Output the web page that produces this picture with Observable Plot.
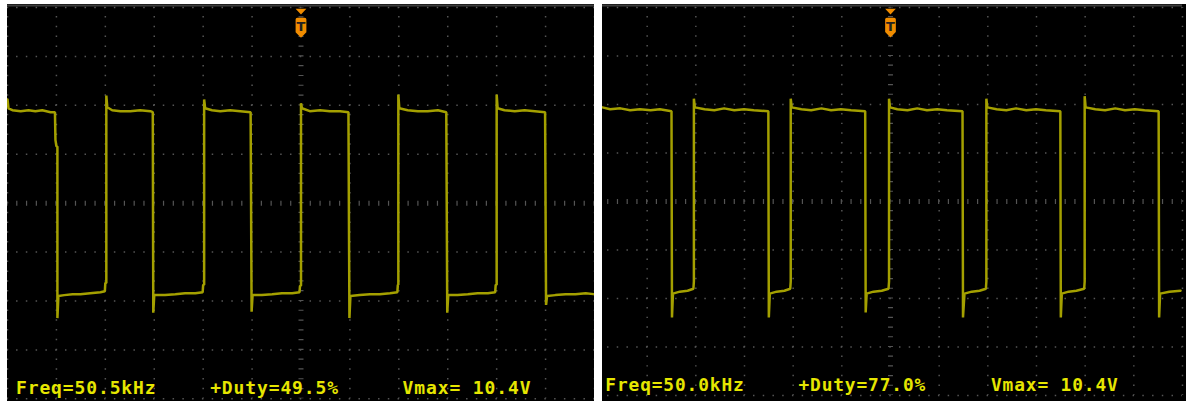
<!DOCTYPE html>
<html><head><meta charset="utf-8">
<script src="https://cdn.jsdelivr.net/npm/d3@7"></script>
<script src="https://cdn.jsdelivr.net/npm/@observablehq/plot@0.6"></script>
<style>
html,body{margin:0;padding:0;background:#fff;width:1186px;height:401px;overflow:hidden;}
.panel{position:absolute;top:4px;height:397px;overflow:hidden;background:#000;}
.panel svg{position:absolute;top:0;display:block;}
.panel .readout, .panel .readout text{letter-spacing:0.9px;}
</style></head><body>
<div id="left" class="panel" style="left:7px;width:587px"></div>
<div id="right" class="panel" style="left:602px;width:584px"></div>
<script>
// Time in µs (10 µs/div, trigger at 0); level in vertical divisions from screen centre
const leftTime = [-60.0,-59.8,-59.0,-57.3,-55.7,-54.3,-52.9,-51.2,-50.3,-50.2,-50.0,-49.8,-49.8,-49.6,-48.4,-46.7,-45.1,-43.1,-41.0,-40.1,-40.0,-39.8,-39.8,-39.6,-38.6,-36.9,-34.9,-32.9,-30.8,-30.3,-30.2,-30.0,-27.8,-25.7,-23.7,-21.6,-20.1,-20.0,-19.8,-19.8,-19.6,-18.2,-16.5,-14.5,-12.4,-10.3,-10.1,-9.9,-8.0,-5.9,-3.9,-1.8,-0.3,-0.2,0.0,0.0,0.2,1.8,3.9,5.9,8.0,9.7,9.9,10.1,12.0,14.1,16.1,18.2,19.7,19.8,19.9,19.9,20.1,21.8,23.9,25.9,28.0,29.7,29.9,30.1,32.0,34.1,36.1,38.2,39.7,39.8,40.0,40.0,40.2,41.6,43.7,45.7,47.8,49.9,50.1,50.3,52.0,54.1,56.1,58.2,59.8];
const leftLevel = [2.12,1.94,1.90,1.88,1.90,1.88,1.90,1.86,1.86,1.29,1.16,1.16,-2.35,-1.90,-1.88,-1.86,-1.86,-1.84,-1.82,-1.80,-1.63,-1.63,2.20,1.96,1.90,1.88,1.88,1.90,1.88,1.86,-2.24,-1.88,-1.88,-1.86,-1.84,-1.84,-1.82,-1.67,-1.67,2.12,1.94,1.90,1.88,1.90,1.88,1.86,-2.22,-1.88,-1.88,-1.86,-1.84,-1.84,-1.82,-1.69,-1.69,2.04,1.94,1.88,1.90,1.88,1.88,1.86,-2.35,-1.90,-1.88,-1.86,-1.86,-1.84,-1.82,-1.67,-1.67,2.22,1.94,1.90,1.88,1.88,1.90,1.86,-2.24,-1.88,-1.88,-1.86,-1.84,-1.84,-1.82,-1.67,-1.67,2.22,1.94,1.90,1.88,1.90,1.88,1.86,-2.08,-1.90,-1.88,-1.86,-1.86,-1.84,-1.86];
const rightTime = [-59.2,-57.6,-55.5,-53.5,-51.5,-49.3,-47.4,-45.0,-44.9,-44.7,-43.3,-41.7,-40.5,-40.4,-40.4,-40.2,-38.2,-36.2,-34.2,-32.1,-30.1,-28.1,-25.1,-25.0,-24.8,-23.4,-21.8,-20.6,-20.5,-20.5,-20.3,-18.3,-16.3,-14.2,-12.2,-10.2,-8.1,-5.2,-5.1,-4.9,-3.5,-1.8,-0.4,-0.3,-0.3,-0.1,1.4,3.5,5.5,7.5,9.6,11.6,14.8,14.9,15.2,16.7,18.3,19.6,19.7,19.7,19.9,21.8,23.8,25.8,27.9,29.9,31.9,34.9,35.0,35.2,36.6,38.2,39.8,39.9,39.9,40.1,42.1,44.1,46.2,48.2,50.2,52.2,55.1,55.2,55.4,57.3,59.6];
const rightLevel = [1.94,1.90,1.92,1.88,1.90,1.88,1.90,1.86,-2.39,-1.90,-1.86,-1.84,-1.80,-1.65,2.12,1.94,1.90,1.88,1.92,1.88,1.90,1.88,1.86,-2.39,-1.90,-1.86,-1.84,-1.80,-1.65,2.12,1.94,1.90,1.88,1.92,1.88,1.90,1.88,1.86,-2.29,-1.90,-1.86,-1.84,-1.80,-1.65,2.12,1.94,1.90,1.88,1.92,1.88,1.90,1.88,1.86,-2.39,-1.90,-1.86,-1.84,-1.80,-1.65,2.12,1.94,1.90,1.88,1.92,1.88,1.90,1.88,1.86,-2.39,-1.90,-1.86,-1.84,-1.80,-1.65,2.17,1.94,1.90,1.88,1.92,1.88,1.90,1.88,1.86,-2.39,-1.90,-1.86,-1.84];
const leftReadouts = ["Freq=50.5kHz", "+Duty=49.5%", "Vmax= 10.4V"];
const rightReadouts = ["Freq=50.0kHz", "+Duty=77.0%", "Vmax= 10.4V"];
const timeDomain = [-60, 60];
const levelDomain = [-4, 4];
const timeGrid = [-60, -50, -40, -30, -20, -10, 10, 20, 30, 40, 50, 60];
const levelGrid = [-4, -3, -2, -1, 1, 2, 3, 4];

const triggerSymbol = {
  draw(ctx) {
    ctx.moveTo(-5.4, 1.3); ctx.lineTo(5.4, 1.3); ctx.lineTo(0, 7); ctx.closePath();
    ctx.moveTo(-5.4, 12); ctx.quadraticCurveTo(-5.4, 10.3, -3.7, 10.3);
    ctx.lineTo(3.7, 10.3); ctx.quadraticCurveTo(5.4, 10.3, 5.4, 12);
    ctx.lineTo(5.4, 24.7); ctx.lineTo(0, 30.3); ctx.lineTo(-5.4, 24.7); ctx.closePath();
  }
};

function scope(el, time, level, readouts, width, readoutDx) {
  const H = 397, mt = 3, mb = 2;
  const hp = width / 60;            // 1/5 division horizontally
  const vp = (H - mt - mb) / 40;    // 1/5 division vertically
  const trace = time.map((t, i) => ({t, v: level[i]}));
  const grid = "#555";
  const plot = Plot.plot({
    width, height: H, marginLeft: 0, marginRight: 0, marginTop: mt, marginBottom: mb,
    x: {domain: timeDomain, axis: null},
    y: {domain: levelDomain, axis: null},
    style: {background: "#000", overflow: "visible"},
    marks: [
      Plot.ruleY([4], {dy: -2, stroke: "#3c3c3c", strokeWidth: 2}),
      Plot.ruleY(levelGrid, {stroke: grid, strokeWidth: 1.5, strokeDasharray: `1.5 ${hp - 1.5}`, strokeDashoffset: 0.75}),
      Plot.ruleX(timeGrid, {stroke: grid, strokeWidth: 1.5, strokeDasharray: `1.5 ${vp - 1.5}`, strokeDashoffset: 0.75}),
      Plot.ruleY([0], {stroke: grid, strokeWidth: 5, strokeDasharray: `1.2 ${hp - 1.2}`, strokeDashoffset: 0.6}),
      Plot.ruleX([0], {stroke: grid, strokeWidth: 5, strokeDasharray: `1.2 ${vp - 1.2}`, strokeDashoffset: 0.6}),
      Plot.line(trace, {x: "t", y: "v", stroke: "#a4a000", strokeWidth: 2.5, strokeLinejoin: "miter"}),
      Plot.dot([0], {x: d => d, frameAnchor: "top", symbol: triggerSymbol, r: 5, fill: "#f08c00", stroke: "none"}),
      Plot.text([0], {x: d => d, text: () => "T", frameAnchor: "top", lineAnchor: "bottom", dy: 23.7, fill: "#222", fontWeight: "bold", fontSize: 13, fontFamily: "DejaVu Sans"}),
      ...readouts.map((s, i) => Plot.text([s], {text: d => d, frameAnchor: "bottom-left", textAnchor: "start", lineAnchor: "bottom", dx: readoutDx[i], dy: -5, fill: "#e6e600", fontFamily: "DejaVu Sans Mono", fontWeight: "bold", fontSize: 18, className: "readout"}))
    ]
  });
  el.appendChild(plot);
  return plot;
}
const lp = scope(document.getElementById("left"), leftTime, leftLevel, leftReadouts, 588, [8.5, 203, 395.8]);
const rp = scope(document.getElementById("right"), rightTime, rightLevel, rightReadouts, 590, [6.9, 202, 396.5]);
rp.style.left = "-4px";
lp.style.left = "0px";
</script>
</body></html>
